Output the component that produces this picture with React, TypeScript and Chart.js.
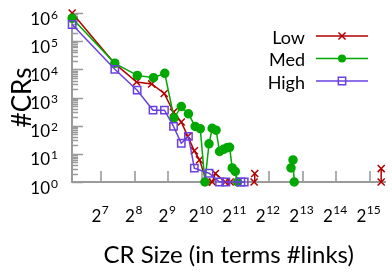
import React, { useEffect, useRef } from 'react';
import { Chart, registerables } from 'chart.js';

Chart.register(...registerables);

const FONT = 'Lato, "Open Sans", "DejaVu Sans", sans-serif';

// Data (x = CR size in #links, y = #CRs); null = gap in line
const seriesNames = ['Low', 'Med', 'High'];
const seriesColors = ['#b00000', '#00a800', '#6a40e0'];

const lowX = [70, 169, 265, 362, 469, 568, 667, 762, 873, 971, 1130, 1262, 1350, 1650, 1830, 2500, 3000, 3040, 20000, 41400, 41400];
const lowY = [1000000, 15900, 3560, 3030, 1390, 302, 135, 41.5, 12.8, 6.1, 1, 1, 2, 1, 1, null, 1, 2, null, 1, 3];

const medX = [70, 169, 269, 376, 474, 574, 667, 773, 888, 987, 1086, 1182, 1262, 1368, 1470, 1595, 1710, 1808, 1910, 2034, 2136, 4000, 6430, 6700, 6870];
const medY = [650000, 16300, 6100, 5050, 7200, 188, 475, 264, 94, 78, 1, 22.7, 81, 69, 12.1, 14.5, 16.3, 17.1, 3.16, 2.37, 1, null, 3.16, 6.1, 1];

const highX = [70, 169, 268, 372, 471, 568, 667, 773, 873, 1182, 1470, 1675, 2283, 2447];
const highY = [390000, 10000, 1820, 355, 355, 94, 23.7, 41.5, 3.1, 2.04, 1, 1, 1, 1];

const xTickExponents = [7, 8, 9, 10, 11, 12, 13, 14, 15];
const yTickExponents = [0, 1, 2, 3, 4, 5, 6];

const xTitle = 'CR Size (in terms #links)';
const yTitle = '#CRs';

const toPoints = (xs: number[], ys: (number | null)[]) => xs.map((x, i) => ({ x, y: ys[i] }));

function drawMarker(ctx: CanvasRenderingContext2D, style: string, x: number, y: number, color: string) {
  ctx.save();
  ctx.strokeStyle = color;
  ctx.fillStyle = color;
  ctx.lineWidth = 1.5;
  ctx.beginPath();
  if (style === 'crossRot') {
    const o = 5 * Math.SQRT1_2;
    ctx.moveTo(x - o, y - o); ctx.lineTo(x + o, y + o);
    ctx.moveTo(x - o, y + o); ctx.lineTo(x + o, y - o);
    ctx.stroke();
  } else if (style === 'circle') {
    ctx.arc(x, y, 4, 0, Math.PI * 2);
    ctx.fill();
  } else {
    const s = 5.2 * Math.SQRT1_2;
    ctx.rect(x - s, y - s, 2 * s, 2 * s);
    ctx.stroke();
  }
  ctx.restore();
}

const pointStyles = ['crossRot', 'circle', 'rect'];

const customPlugin = {
  id: 'customAxesLegend',
  beforeDatasetsDraw(chart: any) {
    const { ctx, chartArea, scales } = chart;
    const xs = scales.x, ys = scales.y;
    ctx.save();
    ctx.strokeStyle = '#9a9a9a';
    ctx.lineWidth = 1.6;
    ctx.beginPath();
    xs.ticks.forEach((t: any) => {
      const p = Math.round(xs.getPixelForValue(t.value));
      ctx.moveTo(p, chartArea.bottom);
      ctx.lineTo(p, chartArea.bottom - 11);
    });
    ys.ticks.forEach((t: any) => {
      const p = Math.round(ys.getPixelForValue(t.value)) + 0.5;
      const len = t.major ? 11 : 6;
      ctx.moveTo(chartArea.left, p);
      ctx.lineTo(chartArea.left + len, p);
    });
    ctx.stroke();
    ctx.restore();
  },
  afterDraw(chart: any) {
    const { ctx, chartArea, scales } = chart;
    const xs = scales.x, ys = scales.y;
    ctx.save();
    ctx.fillStyle = '#000';
    ctx.textBaseline = 'alphabetic';
    const baseFont = `17px ${FONT}`;
    const expFont = `12px ${FONT}`;
    // x tick labels: 2^n
    xs.ticks.forEach((t: any) => {
      const p = xs.getPixelForValue(t.value);
      const n = Math.round(Math.log2(t.value));
      ctx.font = baseFont;
      const wb = ctx.measureText('2').width;
      ctx.font = expFont;
      const we = ctx.measureText(String(n)).width;
      const start = p - (wb + we) / 2 - 1.5;
      ctx.font = baseFont;
      ctx.textAlign = 'left';
      ctx.fillText('2', start, 221.5);
      ctx.font = expFont;
      ctx.fillText(String(n), start + wb + 0.5, 213.5);
    });
    // y tick labels: 10^n
    ys.ticks.forEach((t: any) => {
      if (!t.major) return;
      const p = ys.getPixelForValue(t.value);
      const n = Math.round(Math.log10(t.value));
      ctx.font = expFont;
      const we = ctx.measureText(String(n)).width;
      ctx.textAlign = 'right';
      ctx.fillText(String(n), 58, p + 5.5);
      ctx.font = baseFont;
      ctx.fillText('10', 58 - we - 1, p + 11.5);
    });
    // legend
    ctx.font = `18px ${FONT}`;
    ctx.textAlign = 'right';
    chart.data.datasets.forEach((ds: any, i: number) => {
      const y = 36 + i * 22.5;
      ctx.fillStyle = '#000';
      ctx.fillText(ds.label, 305, y + 7.5);
      ctx.strokeStyle = ds.borderColor;
      ctx.lineWidth = 1.5;
      ctx.beginPath();
      ctx.moveTo(316, y);
      ctx.lineTo(368, y);
      ctx.stroke();
      drawMarker(ctx, pointStyles[i], 342, y, ds.borderColor);
    });
    ctx.restore();
  },
};

export default function App() {
  const ref = useRef<HTMLCanvasElement | null>(null);
  useEffect(() => {
    if (!ref.current) return;
    Chart.defaults.font.family = FONT;
    const data = [toPoints(lowX, lowY), toPoints(medX, medY), toPoints(highX, highY)];
    const chart = new Chart(ref.current, {
      type: 'line',
      data: {
        datasets: seriesNames.map((name, i) => ({
          label: name,
          data: data[i] as any,
          borderColor: seriesColors[i],
          backgroundColor: i === 2 ? 'rgba(0,0,0,0)' : seriesColors[i],
          pointBackgroundColor: i === 2 ? 'rgba(0,0,0,0)' : seriesColors[i],
          pointBorderColor: seriesColors[i],
          pointStyle: pointStyles[i] as any,
          pointRadius: i === 1 ? 4 : i === 0 ? 5 : 5.2,
          pointBorderWidth: 1.5,
          borderWidth: 1.5,
          tension: 0,
          spanGaps: false,
          clip: false as any,
          order: 3 - i,
        })),
      },
      options: {
        responsive: true,
        maintainAspectRatio: false,
        animation: false,
        parsing: true as any,
        layout: { padding: { top: 13, right: 0, left: 0, bottom: 0 } },
        plugins: { legend: { display: false }, tooltip: { enabled: false } },
        scales: {
          x: {
            type: 'logarithmic',
            min: Math.pow(2, 6.125),
            max: Math.pow(2, 15.46),
            grid: { display: false, drawTicks: false },
            border: { display: true, color: '#9a9a9a', width: 2 },
            ticks: { display: false },
            title: { display: true, text: xTitle, color: '#000', font: { family: FONT, size: 24 }, padding: { top: 0, bottom: 3.6 } },
            afterBuildTicks: (s: any) => {
              s.ticks = xTickExponents.map((n) => ({ value: Math.pow(2, n), major: true }));
            },
            afterFit: (s: any) => { s.height = 91; },
          },
          y: {
            type: 'logarithmic',
            min: Math.pow(10, yTickExponents[0]),
            max: Math.pow(10, yTickExponents[yTickExponents.length - 1]),
            grid: { display: false, drawTicks: false },
            border: { display: true, color: '#9a9a9a', width: 2 },
            ticks: { display: false },
            title: { display: true, text: yTitle, color: '#000', font: { family: FONT, size: 26 }, padding: { top: 7, bottom: 0 } },
            afterBuildTicks: (s: any) => {
              const t: any[] = [];
              for (let k = 0; k < yTickExponents.length - 1; k++) {
                for (let m = 1; m < 10; m++) t.push({ value: m * Math.pow(10, yTickExponents[k]), major: m === 1 });
              }
              t.push({ value: Math.pow(10, yTickExponents[yTickExponents.length - 1]), major: true });
              s.ticks = t;
            },
            afterFit: (s: any) => { s.width = 72; },
          },
        },
      },
      plugins: [customPlugin],
    });
    return () => chart.destroy();
  }, []);
  return (
    <div style={{ position: 'absolute', left: 0, top: 0, width: 392, height: 273 }}>
      <canvas ref={ref} />
    </div>
  );
}
